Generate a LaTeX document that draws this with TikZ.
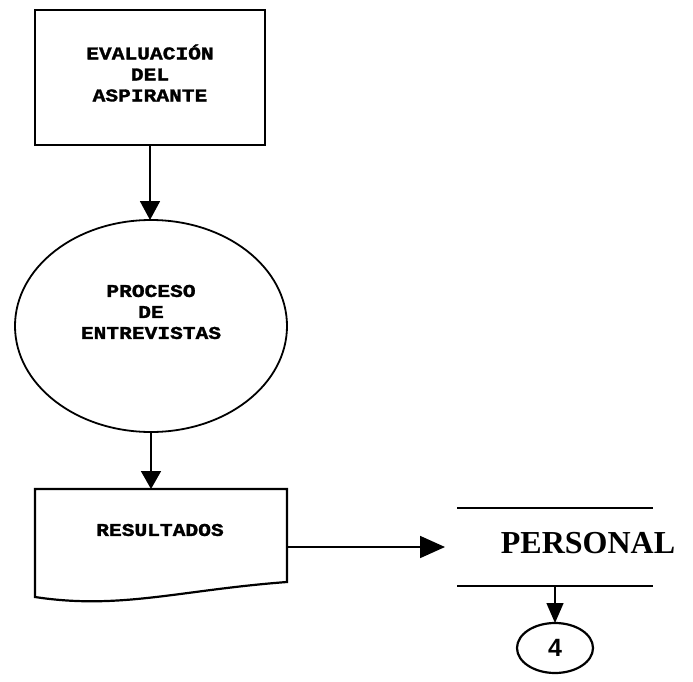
\documentclass[tikz,border=0pt]{standalone}
\usepackage{fontspec}
\setmainfont{Liberation Serif}
\newfontfamily\boxfont[FakeStretch=1.18,FakeBold=1.6]{Liberation Mono}
\newfontfamily\numfont{Liberation Sans}
\usetikzlibrary{arrows.meta,shapes.geometric}

\begin{document}
\begin{tikzpicture}[x=1pt,y=-1pt,
  outline/.style={line width=2.2pt},
  flow/.style={line width=1.8pt,-{Triangle[length=19pt,width=20pt]}},
  boxlabel/.style={font=\boxfont\bfseries\fontsize{18}{21}\selectfont, align=center, inner sep=0pt},
  anchorbox/.style={inner sep=0pt, outer sep=0pt}]
\useasboundingbox (0,0) rectangle (693,682);

% process box
\node[anchorbox, outline, draw, minimum width=230pt, minimum height=135pt] (eval) at (150,77.5) {};
\node[boxlabel] (evaltext) at (150,73) {EVALUACIÓN\\DEL\\ASPIRANTE};

% interview ellipse
\node[anchorbox, outline, line width=1.8pt, draw, ellipse, minimum width=272pt, minimum height=212pt] (proc) at (151,326) {};
\node[boxlabel] (proctext) at (151,312) {PROCESO\\DE\\ENTREVISTAS};

% document shape
\node[anchorbox, minimum width=252pt, minimum height=93pt] (res) at (161,535.5) {};
\draw[outline] (res.north west) -- (res.north east) -- (res.south east)
  .. controls (180,590) and (120,610) .. (35,597) -- cycle;
\node[boxlabel] (restext) at (160,530) {RESULTADOS};

% data store
\node[anchorbox, minimum width=196pt, minimum height=78pt] (pers) at (555,547) {};
\draw[outline] (pers.north west) -- (pers.north east);
\draw[outline] (pers.south west) -- (pers.south east);
\node[font=\bfseries\fontsize{32}{36}\selectfont, inner sep=0pt] (perstext) at (588,543) {PERSONAL};

% connector
\node[anchorbox, outline, draw, ellipse, minimum width=76pt, minimum height=50pt,
  font=\numfont\bfseries\fontsize{25}{28}\selectfont] (four) at (555,648) {4};

% flow lines
\coordinate (resout) at (287,547);
\draw[flow] (eval.south) -- (eval.south |- proc.north);
\draw[flow, -{Triangle[length=18pt,width=20pt]}] (proc.south) -- (proc.south |- res.north);
\draw[flow, -{Triangle[length=25pt,width=22pt]}, shorten >=12pt] (resout) -- (pers.west);
\draw[flow, line width=1.4pt, -{Triangle[length=20pt,width=17pt]}] (pers.south) -- (four.north);
\end{tikzpicture}
\end{document}
